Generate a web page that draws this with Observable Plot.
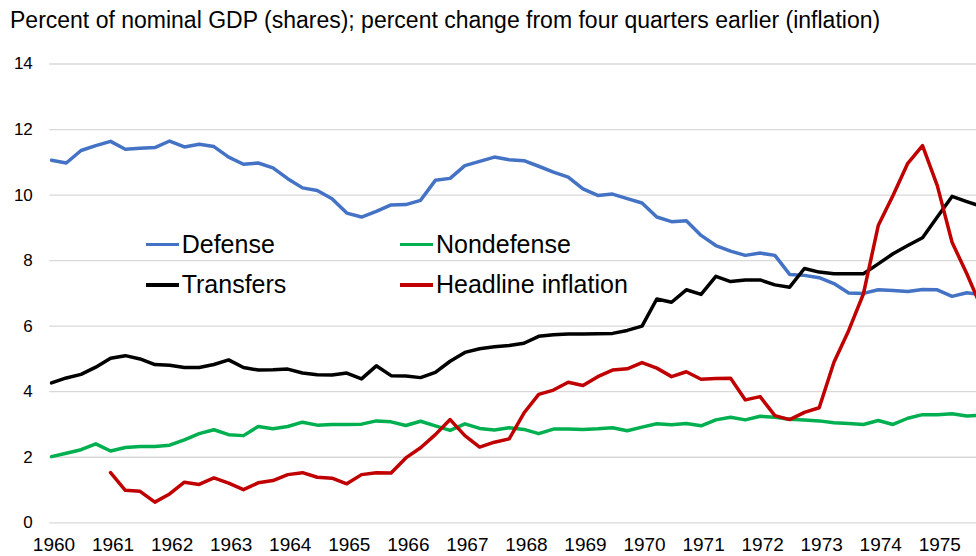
<!DOCTYPE html>
<html><head><meta charset="utf-8">
<script src="https://cdn.jsdelivr.net/npm/d3@7"></script>
<script src="https://cdn.jsdelivr.net/npm/@observablehq/plot@0.6"></script>
<style>
body{margin:0;background:#fff;font-family:"Liberation Sans",Arial,sans-serif;overflow:hidden}
#wrap{position:relative;width:976px;height:556px;overflow:hidden;background:#fff}
#title{position:absolute;left:10px;top:9px;font-size:23px;line-height:23px;color:#000;white-space:nowrap}
#chart{position:absolute;left:0;top:40px}
.sw{position:absolute;height:3.5px;width:33px}
.lt{position:absolute;font-size:25px;line-height:25px;white-space:nowrap;color:#000}
</style></head>
<body><div id="wrap"><div id="title">Percent of nominal GDP (shares); percent change from four quarters earlier (inflation)</div><div id="chart"></div><div id="legend"></div></div>
<script>
const startYear = 1960;
const defense = [11.06, 10.98, 11.36, 11.51, 11.64, 11.40, 11.43, 11.45, 11.65, 11.47,
  11.55, 11.48, 11.16, 10.94, 10.98, 10.83, 10.50, 10.22, 10.14, 9.89,
  9.45, 9.33, 9.50, 9.70, 9.71, 9.84, 10.45, 10.51, 10.90, 11.03,
  11.16, 11.08, 11.05, 10.88, 10.70, 10.55, 10.19, 9.99, 10.03, 9.89,
  9.76, 9.33, 9.19, 9.22, 8.77, 8.46, 8.29, 8.16, 8.23, 8.16,
  7.58, 7.55, 7.48, 7.30, 7.01, 7.00, 7.11, 7.09, 7.06, 7.12,
  7.11, 6.91, 7.02, 6.96];
const nondefense = [2.02, 2.12, 2.23, 2.41, 2.19, 2.30, 2.33, 2.33, 2.37, 2.53,
  2.72, 2.84, 2.69, 2.66, 2.94, 2.87, 2.94, 3.07, 2.98, 3.00,
  3.00, 3.01, 3.11, 3.08, 2.97, 3.10, 2.96, 2.82, 3.02, 2.88,
  2.83, 2.90, 2.85, 2.72, 2.86, 2.86, 2.85, 2.87, 2.90, 2.81,
  2.92, 3.02, 2.99, 3.03, 2.96, 3.14, 3.22, 3.14, 3.25, 3.22,
  3.16, 3.14, 3.11, 3.05, 3.03, 3.00, 3.12, 3.00, 3.19, 3.30,
  3.30, 3.33, 3.26, 3.28];
const transfers = [4.27, 4.42, 4.53, 4.75, 5.02, 5.10, 5.00, 4.83, 4.81, 4.74,
  4.74, 4.83, 4.97, 4.74, 4.66, 4.67, 4.69, 4.57, 4.52, 4.51,
  4.57, 4.39, 4.79, 4.49, 4.48, 4.43, 4.59, 4.93, 5.20, 5.31,
  5.37, 5.41, 5.48, 5.69, 5.74, 5.76, 5.76, 5.77, 5.78, 5.87,
  6.00, 6.83, 6.73, 7.11, 6.97, 7.52, 7.36, 7.41, 7.41, 7.26,
  7.19, 7.76, 7.65, 7.60, 7.60, 7.60, 7.90, 8.21, 8.46, 8.70,
  9.33, 9.96, 9.80, 9.65];
const inflation = [null, null, null, null, 1.53, 0.99, 0.96, 0.63, 0.88, 1.24,
  1.17, 1.37, 1.21, 1.01, 1.22, 1.29, 1.47, 1.53, 1.39, 1.36,
  1.19, 1.47, 1.53, 1.52, 1.98, 2.29, 2.69, 3.15, 2.66, 2.31,
  2.46, 2.56, 3.35, 3.92, 4.05, 4.29, 4.19, 4.46, 4.66, 4.70,
  4.89, 4.72, 4.46, 4.61, 4.38, 4.40, 4.41, 3.75, 3.85, 3.27,
  3.15, 3.37, 3.51, 4.90, 5.87, 6.99, 9.07, 9.99, 10.97, 11.51,
  10.29, 8.56, 7.60, 6.55];
const yearTicks = [1960, 1961, 1962, 1963, 1964, 1965, 1966, 1967, 1968, 1969, 1970, 1971, 1972, 1973, 1974, 1975];
const yTicks = [0, 2, 4, 6, 8, 10, 12, 14];
const seriesNames = ["Defense", "Nondefense", "Transfers", "Headline inflation"];
const seriesColors = ["#4472C4", "#00B050", "#000000", "#C00000"];
const seriesValues = [defense, nondefense, transfers, inflation];

const period = defense.map((_, i) => startYear + i / 4);

const lineMarks = seriesValues.map((vals, k) =>
  Plot.lineY(vals, {x: period, y: vals, stroke: seriesColors[k], strokeWidth: 3.5, clip: true, strokeLinejoin: "round", strokeLinecap: "round"})
);

const chart = Plot.plot({
  width: 976, height: 516,
  marginLeft: 49.3, marginRight: 0, marginTop: 23.5, marginBottom: 33.7,
  style: {fontFamily: '"Liberation Sans", Arial, sans-serif', background: "transparent", color: "#000"},
  x: {domain: [1959.971, 1975.664]},
  y: {domain: [0, 14]},
  marks: [
    Plot.ruleY(yTicks, {stroke: "#d9d9d9", strokeWidth: 1.3}),
    Plot.axisY({ticks: yTicks, tickSize: 0, tickPadding: 17, fontSize: 17, label: null, tickFormat: d => String(d)}),
    Plot.axisX({ticks: yearTicks, tickSize: 0, tickPadding: 15, fontSize: 19, label: null, tickFormat: d => String(d), dx: 2.5}),
    ...lineMarks
  ]
});
document.getElementById("chart").appendChild(chart);

// legend (two columns, two rows, inside plot area)
const legend = document.getElementById("legend");
const colLeft = [145.7, 400];
const rowCenter = [244.3, 285];
const rowTextTop = [232.1, 271.5];
seriesNames.forEach((name, k) => {
  const c = k % 2, r = Math.floor(k / 2);
  const sw = document.createElement("div");
  sw.className = "sw";
  sw.style.left = colLeft[c] + "px";
  sw.style.top = (rowCenter[r] - 1.75) + "px";
  sw.style.background = seriesColors[k];
  legend.appendChild(sw);
  const t = document.createElement("div");
  t.className = "lt";
  t.style.left = (colLeft[c] + 36) + "px";
  t.style.top = rowTextTop[r] + "px";
  t.textContent = name;
  legend.appendChild(t);
});
</script>
</body></html>
